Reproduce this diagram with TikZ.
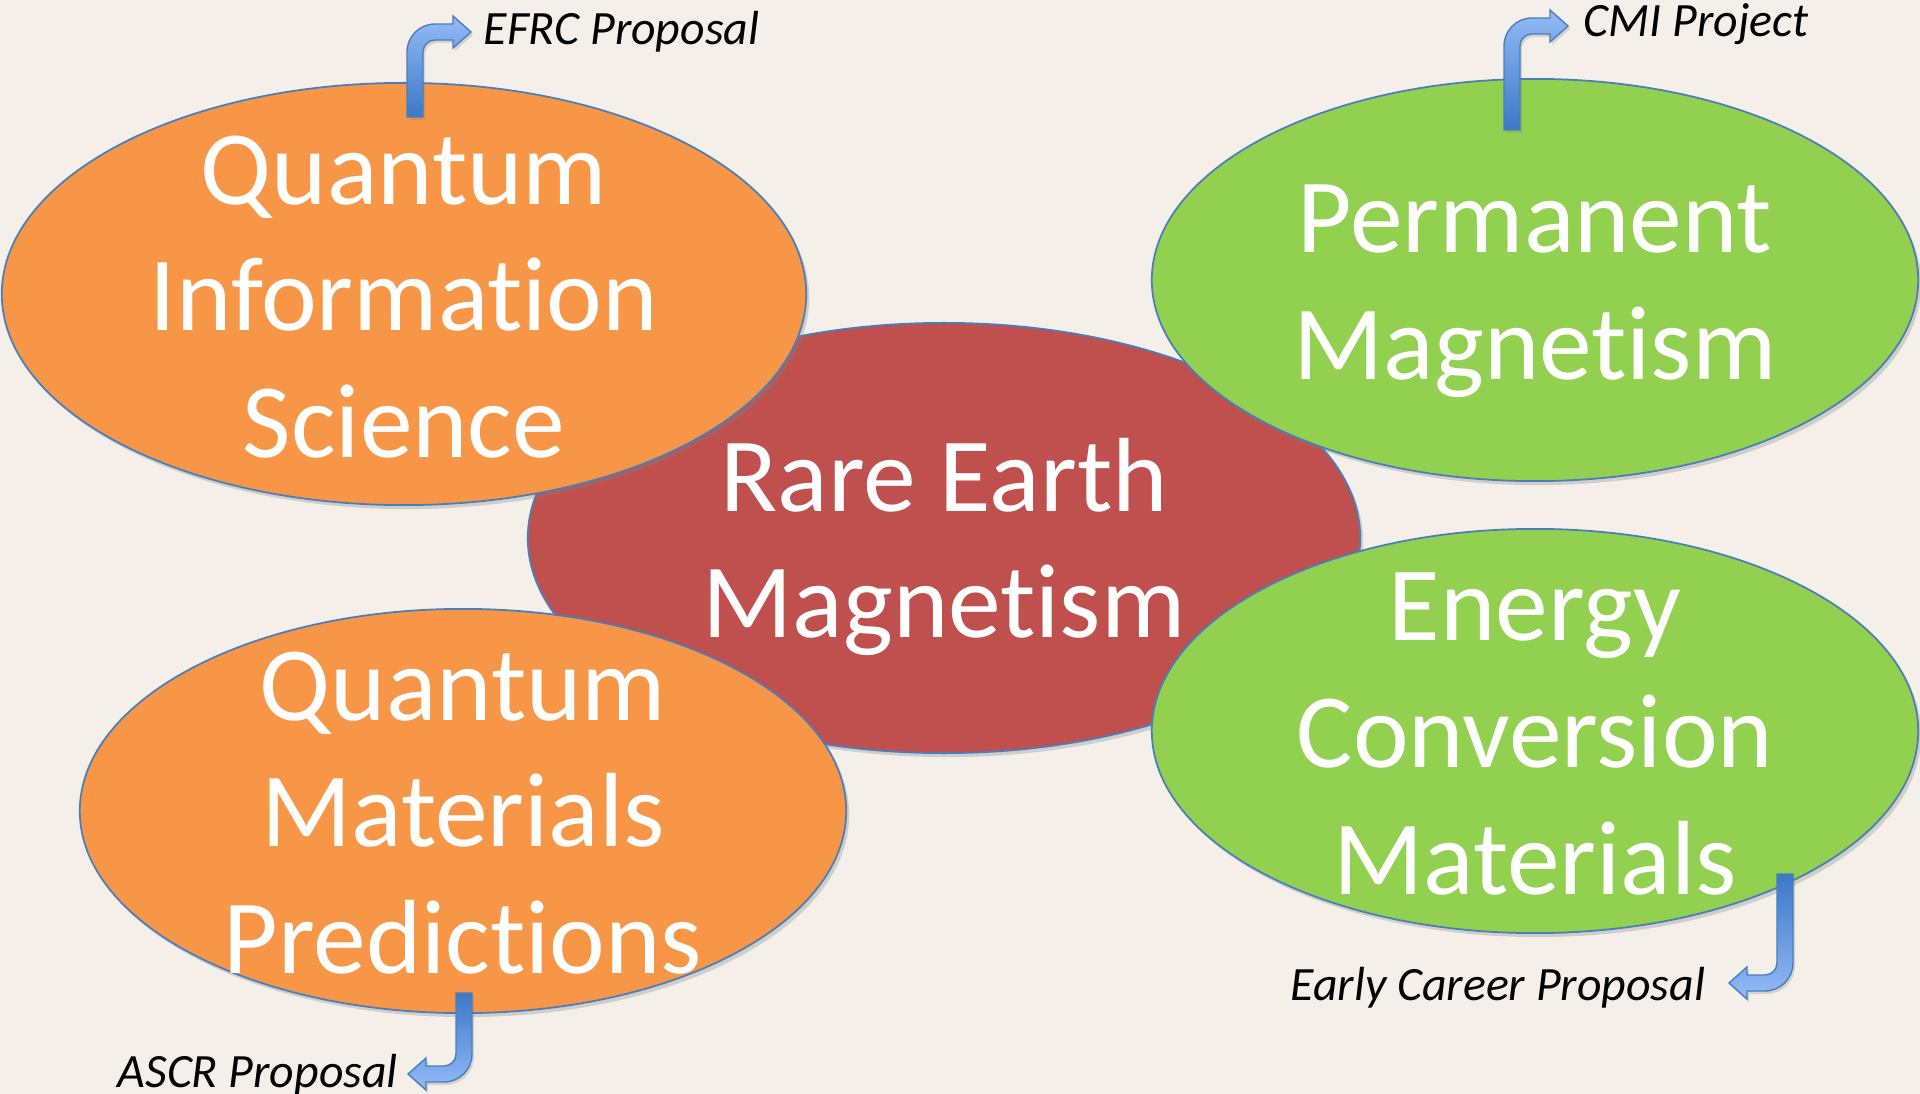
\documentclass[tikz,border=0pt]{standalone}
\usepackage{fontspec}
\setmainfont{Carlito}[Ligatures=NoCommon]
\usetikzlibrary{shapes.geometric,shadows}

\definecolor{paper}{HTML}{F4F0E9}
\definecolor{qorange}{HTML}{F79646}
\definecolor{rered}{HTML}{C0504D}
\definecolor{mgreen}{HTML}{92D050}
\definecolor{rimblue}{HTML}{4A7EBB}
\definecolor{arrlight}{HTML}{94BBF7}
\definecolor{arrdark}{HTML}{3C78C6}

\tikzset{
  topic/.style={ellipse, draw=rimblue, line width=0.5pt, inner sep=0pt,
    drop shadow={shadow xshift=0.03cm, shadow yshift=-0.04cm, opacity=0.3}},
  topictext/.style={text=white, align=center, inner sep=0pt,
    font=\fontsize{30}{36}\selectfont},
  grant/.style={anchor=base west, inner sep=0pt,
    font=\itshape\fontsize{13.6}{16}\selectfont},
  bent/.style={draw=rimblue, line width=0.4pt, top color=arrlight, bottom color=arrdark,
    drop shadow={shadow xshift=0.02cm, shadow yshift=-0.03cm, opacity=0.25}}
}

% bent block arrow, origin at the outer corner, #2 = shaft length
\newcommand{\bentarrow}[2][]{%
  \shade[bent,#1] (0,#2) -- (0,28) arc[start angle=180, end angle=270, radius=28]
    -- (46,0) -- (46,-8) -- (64,8) -- (46,24) -- (46,16) -- (28,16)
    arc[start angle=270, end angle=180, radius=12] -- (16,#2) -- cycle;}

\begin{document}
\begin{tikzpicture}[x=0.01cm, y=-0.01cm]
        \fill[paper] (0,0) rectangle (1920,1094);
        \useasboundingbox (0,0) rectangle (1920,1094);

        % Topics
        \node[topic, fill=rered, minimum width=8.32cm, minimum height=4.30cm] (rem) at (944,538) {};
        \node[topic, fill=qorange, minimum width=8.04cm, minimum height=4.22cm] (qis) at (404,294) {};
        \node[topic, fill=mgreen, minimum width=7.66cm, minimum height=4.02cm] (pm) at (1535,280) {};
        \node[topic, fill=mgreen, minimum width=7.66cm, minimum height=4.04cm] (ecm) at (1535,731) {};
        \node[topic, fill=qorange, minimum width=7.66cm, minimum height=4.04cm] (qmp) at (463,811) {};

        \node[topictext, yshift=-0.09cm] (remtext) at (rem) {Rare Earth\\Magnetism};
        \node[topictext, yshift=-0.03cm] (qistext) at (qis) {Quantum\\Information\\Science};
        \node[topictext, yshift=-0.11cm] (pmtext) at (pm) {Permanent\\Magnetism};
        \node[topictext, yshift=-0.03cm] (ecmtext) at (ecm) {Energy\\Conversion\\Materials};
        \node[topictext, yshift=-0.02cm] (qmptext) at (qmp) {Quantum\\Materials\\Predictions};

        % Funding arrows
        \bentarrow[shift={(407,24)}]{93}
        \bentarrow[shift={(1504,18)}]{112}
        \bentarrow[shift={(1793,991)}, rotate=180, top color=arrdark, bottom color=arrlight]{117}
        \bentarrow[shift={(472,1082)}, rotate=180, top color=arrdark, bottom color=arrlight]{89}

        \node[grant] (efrc) at (483,45) {EFRC Proposal};
        \node[grant] (cmi) at (1583,37) {CMI Project};
        \node[grant] (early) at (1290,1000) {Early Career Proposal};
        \node[grant] (ascr) at (117,1087) {ASCR Proposal};
\end{tikzpicture}
\end{document}
